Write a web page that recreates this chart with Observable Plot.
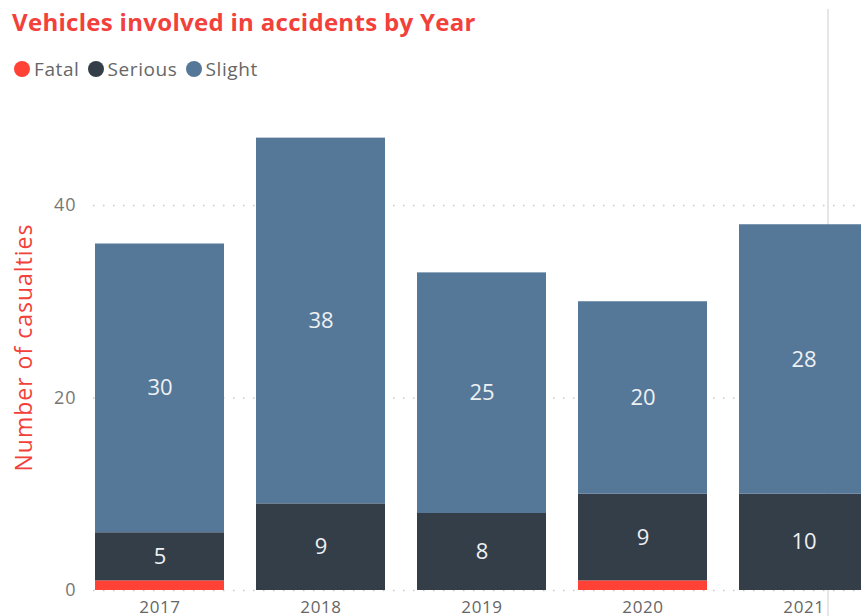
<!DOCTYPE html>
<html>
<head>
<meta charset="utf-8">
<script src="https://cdn.jsdelivr.net/npm/d3@7"></script>
<script src="https://cdn.jsdelivr.net/npm/@observablehq/plot@0.6"></script>
<style>
  html, body { margin: 0; padding: 0; background: #fff; }
  body { width: 861px; height: 616px; overflow: hidden; position: relative; font-family: "Open Sans", sans-serif; }
  #title { position: absolute; left: 12px; top: 5px; font-size: 24px; font-weight: 700; color: #F2403A; letter-spacing: 0.3px; white-space: nowrap; }
  #legend { position: absolute; left: 14px; top: 56px; display: flex; align-items: center; font-size: 19px; color: #666; letter-spacing: 0.6px; }
  #legend .item { display: flex; align-items: center; margin-right: 8px; }
  #legend .sw { width: 16px; height: 16px; border-radius: 50%; margin-right: 4px; }
  #chart { position: absolute; left: 0; top: 90px; width: 902px; }
  #chart svg { max-width: none !important; width: 902px !important; height: 540px !important; }
  #vline { position: absolute; left: 827px; top: 9px; width: 1.5px; height: 620px; background: #e6e6e6; }
</style>
</head>
<body>
<div id="title">Vehicles involved in accidents by Year</div>
<div id="legend"></div>
<div id="vline"></div>
<div id="chart"></div>
<script>
const years = ["2017", "2018", "2019", "2020", "2021"];
const types = ["Fatal", "Serious", "Slight"];
const colors = ["#FF4136", "#343E48", "#557899"];
const fatal = [1, 0, 0, 1, 0];
const serious = [5, 9, 8, 9, 10];
const slight = [30, 38, 25, 20, 28];
const yTicks = [0, 20, 40];
const yLabel = "Number of casualties";

const series = {Fatal: fatal, Serious: serious, Slight: slight};
const data = [];
years.forEach((yr, i) => {
  types.forEach(t => data.push({year: yr, type: t, value: series[t][i]}));
});

// legend
const leg = document.getElementById("legend");
types.forEach((t, i) => {
  const it = document.createElement("div");
  it.className = "item";
  it.innerHTML = `<span class="sw" style="background:${colors[i]}"></span><span>${t}</span>`;
  leg.appendChild(it);
});

const chart = Plot.plot({
  width: 902,
  height: 540,
  marginTop: 38,
  marginBottom: 40,
  marginLeft: 61,
  marginRight: 0,
  style: {fontFamily: "Open Sans, sans-serif", fontSize: "17px", color: "#666", background: "transparent", overflow: "visible", maxWidth: "none"},
  x: {domain: years, padding: 0.196, label: null},
  y: {domain: [0, 48], label: null},
  color: {domain: types, range: colors},
  marks: [
    Plot.ruleY(yTicks, {stroke: "#c8c8c8", strokeWidth: 1.5, strokeDasharray: "1.5,8.5", insetLeft: 32}),
    Plot.barY(data, Plot.stackY({x: "year", y: "value", z: "type", fill: "type", order: types})),
    Plot.text(data, Plot.stackY({x: "year", y: "value", z: "type", order: types,
      text: d => d.type === "Fatal" ? "" : String(d.value),
      fill: "#eef0f2", fontSize: 22})),
    Plot.axisX({tickSize: 0, tickPadding: 10, fontSize: 17, fill: "#666"}),
    Plot.axisY({ticks: yTicks, tickSize: 0, tickPadding: 0, dx: 15, fontSize: 18, fill: "#777", label: null}),
    Plot.text([yLabel], {frameAnchor: "left", textAnchor: "middle", rotate: -90, dx: -37, dy: -12, fill: "#F2403A", fontSize: 23})
  ]
});
d3.select(chart).selectAll("text").filter(function() { return this.textContent === yLabel; })
  .style("letter-spacing", "1px");
d3.select(chart).selectAll("g[aria-label='y-axis tick label'] text").style("letter-spacing", "1px");
d3.select(chart).selectAll("g[aria-label='x-axis tick label'] text").style("letter-spacing", "0.6px");
document.getElementById("chart").appendChild(chart);
</script>
</body>
</html>
